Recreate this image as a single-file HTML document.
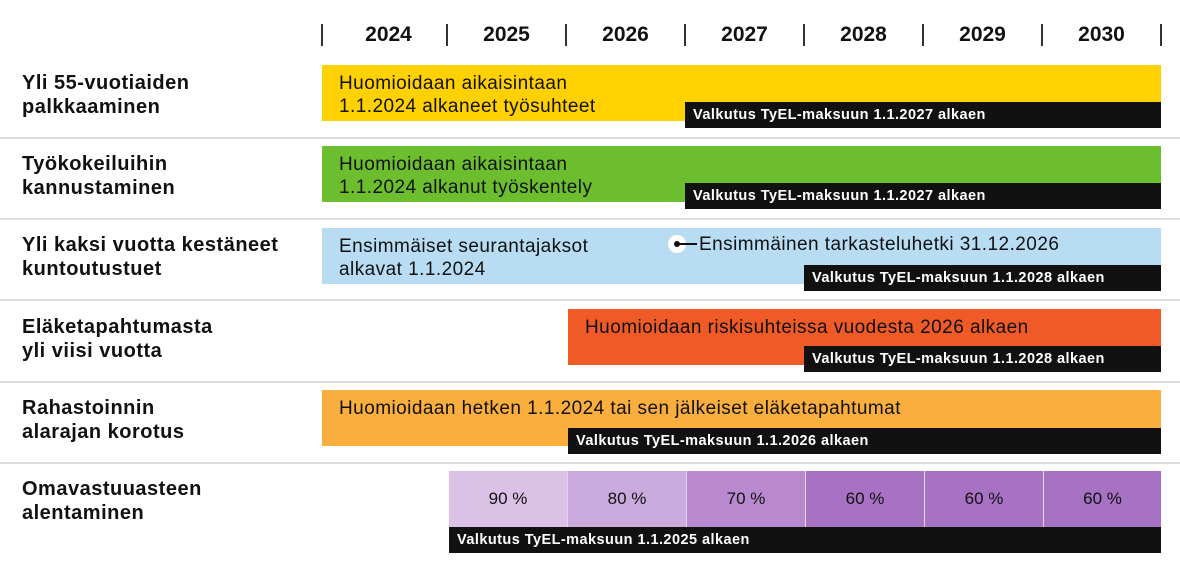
<!DOCTYPE html>
<html><head><meta charset="utf-8"><style>
body{margin:0;width:1180px;height:579px;background:#fff;position:relative;overflow:hidden;font-family:"Liberation Sans",sans-serif;color:#111}
div{position:absolute;box-sizing:border-box}
.yr{top:22px;width:119px;text-align:center;font-weight:bold;font-size:21px;line-height:26px}
.tk{top:24px;width:2px;height:22px;background:#333}
.lab{left:22px;font-weight:bold;font-size:20px;line-height:24px;letter-spacing:0.5px;white-space:nowrap}
.sep{left:0;width:1180px;height:2px;background:#ddd}
.bar{height:56px;font-size:19px;line-height:23px;padding:7px 0 0 17px;letter-spacing:0.45px;white-space:nowrap}
.blk{height:26px;background:#111;color:#fff;font-family:"Liberation Sans Narrow","Liberation Sans",sans-serif;font-weight:bold;font-size:14.5px;line-height:26px;padding-left:8px;right:19px;letter-spacing:0.45px;white-space:nowrap}
.pc{top:471px;height:56px;width:119px;text-align:center;font-size:17px;line-height:56px;border-right:1px solid #e6d6ec}
</style></head><body>
<div class="tk" style="left:321px"></div><div class="tk" style="left:446px"></div><div class="tk" style="left:565px"></div><div class="tk" style="left:684px"></div><div class="tk" style="left:803px"></div><div class="tk" style="left:922px"></div><div class="tk" style="left:1041px"></div><div class="tk" style="left:1160px"></div>
<div class="yr" style="left:329px">2024</div><div class="yr" style="left:447px">2025</div><div class="yr" style="left:566px">2026</div><div class="yr" style="left:685px">2027</div><div class="yr" style="left:804px">2028</div><div class="yr" style="left:923px">2029</div><div class="yr" style="left:1042px">2030</div>

<div class="lab" style="top:71px">Yli 55-vuotiaiden<br>palkkaaminen</div>
<div class="bar" style="left:322px;width:839px;top:65px;background:#FFD100">Huomioidaan aikaisintaan<br>1.1.2024 alkaneet työsuhteet</div>
<div class="blk" style="left:685px;top:102px">Valkutus TyEL-maksuun 1.1.2027 alkaen</div>
<div class="sep" style="top:137px"></div>

<div class="lab" style="top:152px">Työkokeiluihin<br>kannustaminen</div>
<div class="bar" style="left:322px;width:839px;top:146px;background:#6CBE2E">Huomioidaan aikaisintaan<br>1.1.2024 alkanut työskentely</div>
<div class="blk" style="left:685px;top:183px">Valkutus TyEL-maksuun 1.1.2027 alkaen</div>
<div class="sep" style="top:218px"></div>

<div class="lab" style="top:233px">Yli kaksi vuotta kestäneet<br>kuntoutustuet</div>
<div class="bar" style="left:322px;width:839px;top:228px;background:#B8DDF3">Ensimmäiset seurantajaksot<br>alkavat 1.1.2024</div>
<div style="left:668px;top:235px;width:18px;height:18px;border-radius:50%;background:#fff"></div>
<div style="left:674px;top:241px;width:6px;height:6px;border-radius:50%;background:#111"></div>
<div style="left:679px;top:243px;width:18px;height:2px;background:#111"></div>
<div style="left:699px;top:233px;font-size:19px;line-height:23px;letter-spacing:0.45px;white-space:nowrap">Ensimmäinen tarkasteluhetki 31.12.2026</div>
<div class="blk" style="left:804px;top:265px">Valkutus TyEL-maksuun 1.1.2028 alkaen</div>
<div class="sep" style="top:299px"></div>

<div class="lab" style="top:315px">Eläketapahtumasta<br>yli viisi vuotta</div>
<div class="bar" style="left:568px;width:593px;top:309px;background:#EF5A27">Huomioidaan riskisuhteissa vuodesta 2026 alkaen</div>
<div class="blk" style="left:804px;top:346px">Valkutus TyEL-maksuun 1.1.2028 alkaen</div>
<div class="sep" style="top:381px"></div>

<div class="lab" style="top:396px">Rahastoinnin<br>alarajan korotus</div>
<div class="bar" style="left:322px;width:839px;top:390px;background:#F9AE3E">Huomioidaan hetken 1.1.2024 tai sen jälkeiset eläketapahtumat</div>
<div class="blk" style="left:568px;top:428px">Valkutus TyEL-maksuun 1.1.2026 alkaen</div>
<div class="sep" style="top:462px"></div>

<div class="lab" style="top:477px">Omavastuuasteen<br>alentaminen</div>
<div class="pc" style="left:449px;background:#DCC1E6">90 %</div>
<div class="pc" style="left:568px;background:#CBAADE">80 %</div>
<div class="pc" style="left:687px;background:#B889CE">70 %</div>
<div class="pc" style="left:806px;background:#A771C4">60 %</div>
<div class="pc" style="left:925px;background:#A771C4">60 %</div>
<div class="pc" style="left:1044px;width:117px;background:#A771C4;border-right:0">60 %</div>
<div class="blk" style="left:449px;top:527px">Valkutus TyEL-maksuun 1.1.2025 alkaen</div>
</body></html>
